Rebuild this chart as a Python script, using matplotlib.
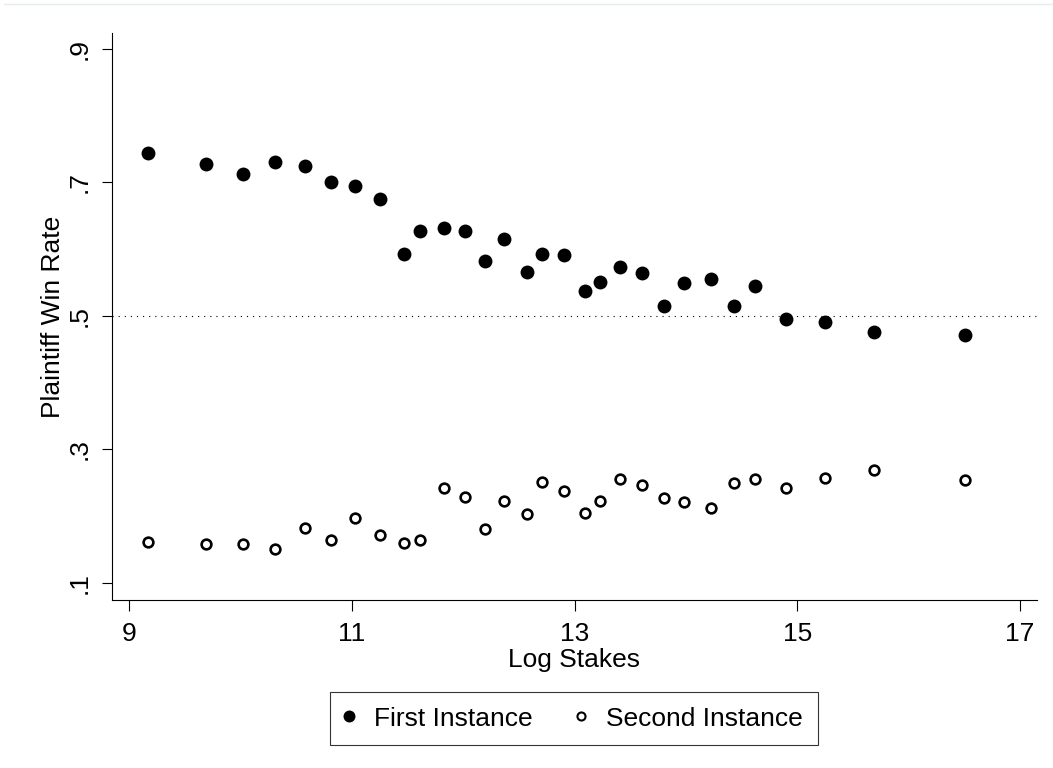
import matplotlib
matplotlib.use('Agg')
import matplotlib.pyplot as plt
from matplotlib.lines import Line2D

plt.rcParams['font.family'] = ['Liberation Sans', 'DejaVu Sans']

# Binned plaintiff win rates by log stakes
log_stakes = [9.17, 9.69, 10.02, 10.31, 10.58, 10.81, 11.03, 11.25, 11.47, 11.61,
              11.83, 12.02, 12.20, 12.37, 12.57, 12.71, 12.91, 13.09, 13.23, 13.41,
              13.61, 13.80, 13.98, 14.23, 14.43, 14.62, 14.90, 15.25, 15.69, 16.51]
first_instance = [0.744, 0.727, 0.713, 0.730, 0.725, 0.700, 0.694, 0.675, 0.593, 0.627,
                  0.632, 0.627, 0.582, 0.615, 0.566, 0.592, 0.591, 0.537, 0.550, 0.573,
                  0.564, 0.515, 0.549, 0.555, 0.515, 0.544, 0.496, 0.491, 0.476, 0.472]
second_instance = [0.161, 0.158, 0.158, 0.151, 0.183, 0.164, 0.198, 0.172, 0.160, 0.165,
                   0.242, 0.228, 0.181, 0.222, 0.203, 0.251, 0.237, 0.205, 0.223, 0.255,
                   0.246, 0.227, 0.221, 0.212, 0.249, 0.256, 0.242, 0.257, 0.269, 0.254]

x_ticks = [9, 11, 13, 15, 17]
y_ticks = [0.1, 0.3, 0.5, 0.7, 0.9]
y_tick_labels = ['.1', '.3', '.5', '.7', '.9']

fs = 19

fig = plt.figure(figsize=(10.53, 7.68), dpi=100)
ax = fig.add_axes([112 / 1053, 1 - 600 / 768, 925 / 1053, 567 / 768])

ax.axhline(0.5, color='black', lw=0.8, linestyle=(0, (1, 4.5)), zorder=1)

ax.plot(log_stakes, first_instance, linestyle='none', marker='o', ms=10,
        mfc='black', mec='black', mew=0, zorder=3)
ax.plot(log_stakes, second_instance, linestyle='none', marker='o', ms=7.0,
        mfc='white', mec='black', mew=1.9, zorder=3)

ax.set_xlim(8.8474, 17.1526)
ax.set_ylim(0.0745, 0.9235)

ax.set_xticks(x_ticks)
ax.set_xticklabels([str(t) for t in x_ticks])
ax.set_yticks(y_ticks)
ax.set_yticklabels(y_tick_labels, rotation=90, va='center')

ax.tick_params(axis='x', length=7.8, width=0.8, pad=8, labelsize=fs)
ax.tick_params(axis='y', length=7.2, width=0.8, pad=7.3, labelsize=fs)

for side in ['top', 'right']:
    ax.spines[side].set_visible(False)
for side in ['left', 'bottom']:
    ax.spines[side].set_linewidth(0.8)

ax.set_xlabel('Log Stakes', fontsize=fs, labelpad=1.5)
ax.set_ylabel('Plaintiff Win Rate', fontsize=fs, labelpad=2)

handles = [
    Line2D([], [], linestyle='none', marker='o', ms=8.6, mfc='black', mec='black', mew=0),
    Line2D([], [], linestyle='none', marker='o', ms=5.8, mfc='white', mec='black', mew=1.5),
]
leg = fig.legend(handles, ['First Instance', 'Second Instance'], ncol=2,
                 loc='upper center', bbox_to_anchor=(574 / 1053, 1 - 692 / 768),
                 fontsize=fs, frameon=True, fancybox=False, borderpad=0.55,
                 handlelength=0.3, handletextpad=0.8, columnspacing=1.7,
                 borderaxespad=0)
leg.get_frame().set_edgecolor('black')
leg.get_frame().set_linewidth(0.8)

# faint border line along the top of the graph region
fig.add_artist(Line2D([4 / 1053, 1], [1 - 4 / 768, 1 - 4 / 768],
                      transform=fig.transFigure, color='#e4eeec', lw=1))

fig.savefig('out.png', dpi=100)
